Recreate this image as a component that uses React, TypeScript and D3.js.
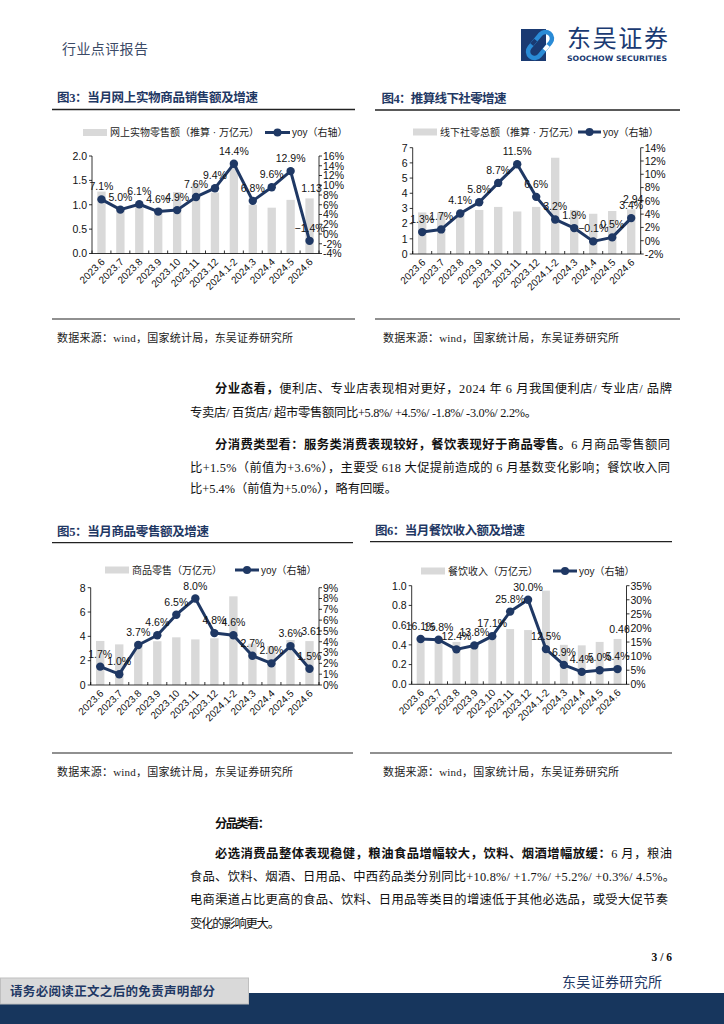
import React from "react";
import * as d3 from "d3";

// ---------- data ----------
const months = ["2023.6", "2023.7", "2023.8", "2023.9", "2023.10", "2023.11", "2023.12", "2024.1-2", "2024.3", "2024.4", "2024.5", "2024.6"];

const onlineSales = [1.27, 0.93, 1.02, 0.86, 1.26, 1.44, 1.25, 1.83, 1.0, 0.94, 1.1, 1.13];
const onlineYoy = [7.1, 5.0, 6.1, 4.6, 4.9, 7.6, 9.4, 14.4, 6.8, 9.6, 12.9, -1.4];
const onlineLeftTicks = [0, 0.5, 1.0, 1.5, 2.0];
const onlineRightTicks = [-4, -2, 0, 2, 4, 6, 8, 10, 12, 14, 16];

const offlineSales = [2.74, 2.74, 2.67, 2.9, 3.1, 2.8, 3.1, 6.34, 2.9, 2.65, 2.83, 2.94];
const offlineYoy = [1.3, 1.7, 4.1, 5.8, 8.7, 11.5, 6.6, 3.2, 1.9, -0.1, 0.5, 3.4];
const offlineLeftTicks = [0, 1, 2, 3, 4, 5, 6, 7];
const offlineRightTicks = [-2, 0, 2, 4, 6, 8, 10, 12, 14];

const goodsSales = [3.62, 3.34, 3.56, 3.6, 3.92, 3.75, 3.84, 7.29, 3.4, 3.2, 3.7, 3.61];
const goodsYoy = [1.7, 1.0, 3.7, 4.6, 6.5, 8.0, 4.8, 4.6, 2.7, 2.0, 3.6, 1.5];
const goodsLeftTicks = [0, 2, 4, 6, 8];
const goodsRightTicks = [0, 1, 2, 3, 4, 5, 6, 7, 8, 9];

const cateringSales = [0.47, 0.46, 0.43, 0.42, 0.47, 0.56, 0.55, 0.95, 0.4, 0.395, 0.43, 0.46];
const cateringYoy = [16.1, 15.8, 12.4, 13.8, 17.1, 25.8, 30.0, 12.5, 6.9, 4.4, 5.0, 5.4];
const cateringLeftTicks = [0, 0.2, 0.4, 0.6, 0.8, 1.0];
const cateringRightTicks = [0, 5, 10, 15, 20, 25, 30, 35];

const sourceText = "数据来源：wind，国家统计局，东吴证券研究所";

// ---------- styles ----------
const NAVY = "#1f3864";
const BAR = "#d9d9d9";
const SANS = "'Liberation Sans', Arial, 'Noto Sans CJK SC', sans-serif";
const SERIF = "'Liberation Serif', 'Times New Roman', 'Noto Sans CJK SC', serif";

type Cfg = {
  title: string;
  titleX: number;
  titleY: number;
  titleW: number;
  ruleX1: number;
  ruleX2: number;
  ruleY: number;
  divY: number;
  srcX: number;
  srcY: number;
  left: number;
  right: number;
  top: number;
  bottom: number;
  sales: number[];
  yoy: number[];
  leftTicks: number[];
  rightTicks: number[];
  leftFmt: (v: number) => string;
  legendY: number;
  swX: number;
  barLegend: string;
  lineX: number;
  lineW: number;
};

function DualChart({ c }: { c: Cfg }) {
  const x = d3.scaleBand<string>().domain(months).range([c.left, c.right]).paddingInner(0.56).paddingOuter(0.28);
  const yL = d3.scaleLinear().domain([c.leftTicks[0], c.leftTicks[c.leftTicks.length - 1]]).range([c.bottom, c.top]);
  const yR = d3.scaleLinear().domain([c.rightTicks[0], c.rightTicks[c.rightTicks.length - 1]]).range([c.bottom, c.top]);
  const cx = (m: string) => (x(m) as number) + x.bandwidth() / 2;
  const line = d3
    .line<number>()
    .x((_, i) => cx(months[i]))
    .y((d) => yR(d));
  const step = x.step();
  const last = months.length - 1;
  const lineLegendEnd = c.lineX + c.lineW;
  return (
    <g>
      <text x={c.titleX} y={c.titleY + 4.5} fontFamily={SERIF} fontWeight="bold" fontSize={12.5} fill={NAVY} textLength={c.titleW} lengthAdjust="spacing">
        {c.title}
      </text>
      <line x1={c.ruleX1} x2={c.ruleX2} y1={c.ruleY} y2={c.ruleY} stroke="#222" strokeWidth={1.3} />
      {/* legend */}
      <rect x={c.swX} y={c.legendY - 3.5} width={24} height={7} fill={BAR} />
      <text x={c.swX + 27} y={c.legendY + 3.5} fontFamily={SANS} fontSize={10} fill="#222">
        {c.barLegend}
      </text>
      <line x1={c.lineX} x2={lineLegendEnd} y1={c.legendY} y2={c.legendY} stroke={NAVY} strokeWidth={3} />
      <circle cx={c.lineX + c.lineW / 2} cy={c.legendY} r={4} fill={NAVY} />
      <text x={lineLegendEnd + 2} y={c.legendY + 3.5} fontFamily={SANS} fontSize={10} fill="#222">
        yoy（右轴）
      </text>
      {/* bars */}
      {c.sales.map((v, i) => (
        <rect key={i} x={x(months[i])} y={yL(v)} width={x.bandwidth()} height={c.bottom - yL(v)} fill={BAR} />
      ))}
      {/* axes */}
      <line x1={c.left} x2={c.left} y1={c.top} y2={c.bottom} stroke="#000" strokeWidth={0.8} />
      <line x1={c.right} x2={c.right} y1={c.top} y2={c.bottom} stroke="#000" strokeWidth={0.8} />
      <line x1={c.left} x2={c.right} y1={c.bottom} y2={c.bottom} stroke="#000" strokeWidth={0.8} />
      {c.leftTicks.map((t) => (
        <g key={"l" + t}>
          <line x1={c.left - 3} x2={c.left} y1={yL(t)} y2={yL(t)} stroke="#000" strokeWidth={0.8} />
          <text x={c.left - 5} y={yL(t) + 3.8} textAnchor="end" fontFamily={SANS} fontSize={10.5} fill="#111">
            {c.leftFmt(t)}
          </text>
        </g>
      ))}
      {c.rightTicks.map((t) => (
        <g key={"r" + t}>
          <line x1={c.right} x2={c.right + 3} y1={yR(t)} y2={yR(t)} stroke="#000" strokeWidth={0.8} />
          <text x={c.right + 4} y={yR(t) + 3.8} textAnchor="start" fontFamily={SANS} fontSize={10.5} fill="#111">
            {t + "%"}
          </text>
        </g>
      ))}
      {d3.range(months.length + 1).map((i) => (
        <line key={"b" + i} x1={c.left + i * step} x2={c.left + i * step} y1={c.bottom} y2={c.bottom - 3} stroke="#000" strokeWidth={0.8} />
      ))}
      {months.map((m) => (
        <text key={m} transform={`translate(${cx(m) + 4},${c.bottom + 9}) rotate(-45)`} textAnchor="end" fontFamily={SANS} fontSize={10} fill="#111">
          {m}
        </text>
      ))}
      {/* line */}
      <path d={line(c.yoy) || ""} fill="none" stroke={NAVY} strokeWidth={3} strokeLinejoin="round" />
      {c.yoy.map((v, i) => (
        <circle key={i} cx={cx(months[i])} cy={yR(v)} r={4.2} fill={NAVY} />
      ))}
      {c.yoy.map((v, i) => (
        <text key={"t" + i} x={cx(months[i])} y={yR(v) - 9} textAnchor="middle" fontFamily={SANS} fontSize={10.5} fill="#111">
          {d3.format(".1f")(v) + "%"}
        </text>
      ))}
      <text x={cx(months[last]) + 2} y={yL(c.sales[last]) - 6} textAnchor="middle" fontFamily={SANS} fontSize={10.5} fill="#111">
        {d3.format(".2f")(c.sales[last])}
      </text>
      {/* bottom rule + source */}
      <line x1={c.ruleX1} x2={c.ruleX2} y1={c.divY} y2={c.divY} stroke="#222" strokeWidth={1.2} />
      <text x={c.srcX} y={c.srcY + 4} fontFamily={SERIF} fontSize={11} fill="#222" textLength={236} lengthAdjust="spacing">
        {sourceText}
      </text>
    </g>
  );
}

const f1 = (v: number) => d3.format(".1f")(v);
const f0 = (v: number) => d3.format("d")(v);

const charts: Cfg[] = [
  {
    title: "图3：当月网上实物商品销售额及增速", titleX: 57, titleY: 97.3, titleW: 201,
    ruleX1: 52, ruleX2: 355, ruleY: 109.5, divY: 319, srcX: 57, srcY: 338,
    left: 92, right: 319, top: 156, bottom: 253.5,
    sales: onlineSales, yoy: onlineYoy, leftTicks: onlineLeftTicks, rightTicks: onlineRightTicks, leftFmt: f1,
    legendY: 132.5, swX: 83, barLegend: "网上实物零售额（推算 · 万亿元）", lineX: 265, lineW: 25,
  },
  {
    title: "图4：推算线下社零增速", titleX: 381.5, titleY: 98, titleW: 125,
    ruleX1: 375, ruleX2: 680, ruleY: 110, divY: 319, srcX: 383, srcY: 338,
    left: 412.7, right: 640.7, top: 147.7, bottom: 254,
    sales: offlineSales, yoy: offlineYoy, leftTicks: offlineLeftTicks, rightTicks: offlineRightTicks, leftFmt: f0,
    legendY: 132, swX: 413, barLegend: "线下社零总额（推算 · 万亿元）", lineX: 578, lineW: 23,
  },
  {
    title: "图5：当月商品零售额及增速", titleX: 57, titleY: 531, titleW: 152,
    ruleX1: 52, ruleX2: 353, ruleY: 542.7, divY: 753, srcX: 57, srcY: 772,
    left: 90.7, right: 319, top: 587.7, bottom: 685,
    sales: goodsSales, yoy: goodsYoy, leftTicks: goodsLeftTicks, rightTicks: goodsRightTicks, leftFmt: f0,
    legendY: 570, swX: 105, barLegend: "商品零售（万亿元）", lineX: 235, lineW: 24,
  },
  {
    title: "图6：当月餐饮收入额及增速", titleX: 375, titleY: 530, titleW: 150,
    ruleX1: 370, ruleX2: 672, ruleY: 541.7, divY: 753, srcX: 383, srcY: 772,
    left: 411.7, right: 626.5, top: 585.7, bottom: 684.3,
    sales: cateringSales, yoy: cateringYoy, leftTicks: cateringLeftTicks, rightTicks: cateringRightTicks, leftFmt: f1,
    legendY: 571, swX: 421, barLegend: "餐饮收入（万亿元）", lineX: 553, lineW: 24,
  },
];

// body text lines: [text, bold] parts
type Line = { x: number; y: number; w: number; parts: [string, boolean][] };
const bodyLines: Line[] = [
  { x: 215, y: 388.5, w: 457, parts: [["分业态看，", true], ["便利店、专业店表现相对更好，2024 年 6 月我国便利店/ 专业店/ 品牌", false]] },
  { x: 190, y: 412.5, w: 347, parts: [["专卖店/ 百货店/ 超市零售额同比+5.8%/ +4.5%/ -1.8%/ -3.0%/ 2.2%。", false]] },
  { x: 215, y: 444, w: 455, parts: [["分消费类型看：服务类消费表现较好，餐饮表现好于商品零售。", true], ["6 月商品零售额同", false]] },
  { x: 190, y: 467.3, w: 480, parts: [["比+1.5%（前值为+3.6%），主要受 618 大促提前造成的 6 月基数变化影响；餐饮收入同", false]] },
  { x: 190, y: 488.5, w: 207, parts: [["比+5.4%（前值为+5.0%），略有回暖。", false]] },
  { x: 215, y: 823.3, w: 55, parts: [["分品类看：", true]] },
  { x: 215, y: 853.3, w: 457, parts: [["必选消费品整体表现稳健，粮油食品增幅较大，饮料、烟酒增幅放缓：", true], ["6 月，粮油", false]] },
  { x: 190, y: 876.7, w: 485, parts: [["食品、饮料、烟酒、日用品、中西药品类分别同比+10.8%/ +1.7%/ +5.2%/ +0.3%/ 4.5%。", false]] },
  { x: 190, y: 899.3, w: 478, parts: [["电商渠道占比更高的食品、饮料、日用品等类目的增速低于其他必选品，或受大促节奏", false]] },
  { x: 190, y: 923.3, w: 90, parts: [["变化的影响更大。", false]] },
];

export default function App() {
  return (
    <svg width={724} height={1024} viewBox="0 0 724 1024" style={{ position: "absolute", left: 0, top: 0, background: "#fff" }}>
      <rect x={0} y={0} width={724} height={1024} fill="#fff" />
      {/* header */}
      <text x={62} y={54} fontFamily={SERIF} fontSize={14} fill="#3b4a66" textLength={86} lengthAdjust="spacing">
        行业点评报告
      </text>
      <rect x={521} y={29} width={25} height={32} fill="#1a3a72" />
      <g transform="translate(540,45) rotate(-50)">
        <rect x={-15} y={-6.5} width={30} height={13} rx={6.5} fill="none" stroke="#2a8bd6" strokeWidth={4.5} />
        <rect x={-5} y={-8.5} width={6} height={4} fill="#1a3a72" />
        <rect x={-1} y={4.5} width={6} height={4} fill="#fff" />
      </g>
      <text x={567} y={47} fontFamily="'Noto Sans CJK SC', sans-serif" fontSize={24} fill="#1a3a72" textLength={101} lengthAdjust="spacing">
        东吴证券
      </text>
      <text x={567} y={61} fontFamily={"'DejaVu Sans', sans-serif"} fontWeight="bold" fontSize={7.5} fill="#1a3a72" textLength={100} lengthAdjust="spacingAndGlyphs">
        SOOCHOW SECURITIES
      </text>

      {charts.map((c, i) => (
        <DualChart key={i} c={c} />
      ))}

      {bodyLines.map((l, i) => (
        <text key={i} x={l.x} y={l.y + 4.5} fontFamily={SERIF} fontSize={12.3} fill="#111" textLength={l.w} lengthAdjust="spacing">
          {l.parts.map(([t, b], j) => (
            <tspan key={j} fontWeight={b ? "bold" : "normal"}>
              {t}
            </tspan>
          ))}
        </text>
      ))}

      {/* footer */}
      <text x={672} y={961} textAnchor="end" fontFamily={SERIF} fontWeight="bold" fontSize={11.5} fill="#111">
        3 / 6
      </text>
      <text x={562} y={987} fontFamily={SERIF} fontSize={14} fill={NAVY} textLength={100} lengthAdjust="spacing">
        东吴证券研究所
      </text>
      <rect x={0} y={993} width={724} height={31} fill="#17365d" />
      <rect x={0.5} y={978} width={248} height={26} fill="#d9d9d9" stroke="#bfbfbf" strokeWidth={1} />
      <text x={10} y={996} fontFamily={SERIF} fontWeight="bold" fontSize={12.5} fill={NAVY} textLength={205} lengthAdjust="spacing">
        请务必阅读正文之后的免责声明部分
      </text>
    </svg>
  );
}
